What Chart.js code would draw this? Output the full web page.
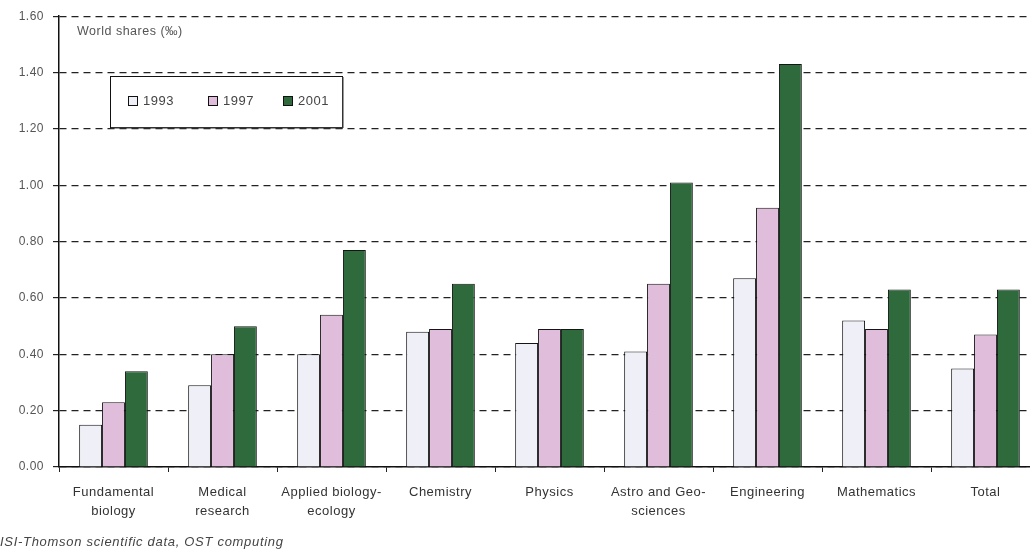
<!DOCTYPE html>
<html>
<head>
<meta charset="utf-8">
<script src="https://cdn.jsdelivr.net/npm/chart.js@4.4.1/dist/chart.umd.min.js"></script>
<style>
  html, body { margin: 0; padding: 0; background: #ffffff; overflow: hidden; }
  #wrap { width: 1040px; height: 552px; position: relative; }
</style>
</head>
<body>
<div id="wrap"><canvas id="c"></canvas></div>
<script>
// World shares (per mille) by discipline
const categories = [
  ["Fundamental", "biology"],
  ["Medical", "research"],
  ["Applied biology-", "ecology"],
  "Chemistry",
  "Physics",
  ["Astro and Geo-", "sciences"],
  "Engineering",
  "Mathematics",
  "Total"
];
const years = ["1993", "1997", "2001"];
const shares1993 = [0.15, 0.29, 0.40, 0.48, 0.44, 0.41, 0.67, 0.52, 0.35];
const shares1997 = [0.23, 0.40, 0.54, 0.49, 0.49, 0.65, 0.92, 0.49, 0.47];
const shares2001 = [0.34, 0.50, 0.77, 0.65, 0.49, 1.01, 1.43, 0.63, 0.63];
const yTicks = [0, 0.2, 0.4, 0.6, 0.8, 1.0, 1.2, 1.4, 1.6];
const yTitle = "World shares (‰)";
const sourceNote = "ISI-Thomson scientific data, OST computing";

const fills = ["#eff0f7", "#dfbddb", "#2f6a3c"];
const FONT = "'Liberation Sans', Arial, sans-serif";

// Slightly open letter spacing for all canvas text
const spacing = {
  id: "spacing",
  beforeDraw(chart) { chart.ctx.letterSpacing = "0.5px"; }
};

// Framed legend inside the plot, plus the axis caption and source line
const annotations = {
  id: "annotations",
  afterDatasetsDraw(chart) {
    const ctx = chart.ctx;
    ctx.save();
    // legend frame
    const bx = 110, by = 76, bw = 232, bh = 51;
    ctx.fillStyle = "#ffffff";
    ctx.fillRect(bx, by, bw, bh);
    ctx.strokeStyle = "#111";
    ctx.lineWidth = 1;
    ctx.strokeRect(bx + 0.5, by + 0.5, bw, bh);
    ctx.fillStyle = "#333";
    ctx.fillRect(bx + 1, by + bh, bw, 1.5);
    ctx.fillRect(bx + bw, by + 1, 1.5, bh);
    const itemX = [128, 208, 283];
    chart.data.datasets.forEach((ds, i) => {
      const x = itemX[i], y = 96;
      ctx.fillStyle = ds.backgroundColor;
      ctx.fillRect(x, y, 9, 9);
      ctx.strokeStyle = "#111";
      ctx.strokeRect(x + 0.5, y + 0.5, 9, 9);
      ctx.fillStyle = "#444";
      ctx.font = "13px " + FONT;
      ctx.textBaseline = "middle";
      ctx.textAlign = "left";
      ctx.fillText(ds.label, x + 15, y + 5);
    });
    // axis caption
    ctx.fillStyle = "#555";
    ctx.font = "12.5px " + FONT;
    ctx.textBaseline = "middle";
    ctx.fillText(yTitle, 77, 32);
    // source
    ctx.font = "italic 13px " + FONT;
    ctx.letterSpacing = "0.7px";
    ctx.fillStyle = "#444";
    ctx.fillText(sourceNote, 0, 542);
    ctx.restore();
  }
};

new Chart(document.getElementById("c"), {
  type: "bar",
  data: {
    labels: categories,
    datasets: [
      { label: years[0], data: shares1993, backgroundColor: fills[0] },
      { label: years[1], data: shares1997, backgroundColor: fills[1] },
      { label: years[2], data: shares2001, backgroundColor: fills[2] }
    ].map(d => Object.assign(d, {
      borderColor: "#151515",
      borderWidth: 1,
      categoryPercentage: 0.63,
      barPercentage: 1.0
    }))
  },
  options: {
    responsive: true,
    maintainAspectRatio: false,
    animation: false,
    devicePixelRatio: 1,
    layout: { padding: { top: 16, right: 0, left: 0, bottom: 0 } },
    plugins: { legend: { display: false }, tooltip: { enabled: false } },
    scales: {
      x: {
        offset: true,
        grid: {
          offset: true,
          drawOnChartArea: false,
          drawTicks: true,
          tickLength: 5,
          color: "#222",
          lineWidth: 1
        },
        border: { display: true, color: "#111", width: 1.5 },
        ticks: {
          color: "#333",
          font: { family: FONT, size: 13, lineHeight: 1.45 },
          padding: 11,
          maxRotation: 0,
          autoSkip: false
        },
        afterFit(scale) { scale.height = 85; }
      },
      y: {
        min: 0,
        max: 1.6,
        afterBuildTicks(scale) { scale.ticks = yTicks.map(v => ({ value: v })); },
        grid: {
          color: "#222",
          lineWidth: 1.2,
          drawTicks: true,
          tickLength: 6
        },
        border: { display: true, color: "#111", width: 1.5, dash: [7, 5] },
        ticks: {
          color: "#555",
          font: { family: FONT, size: 12 },
          padding: 9,
          callback: v => Number(v).toFixed(2)
        },
        afterFit(scale) { scale.width = 59; }
      }
    }
  },
  plugins: [spacing, annotations]
});
</script>
</body>
</html>
